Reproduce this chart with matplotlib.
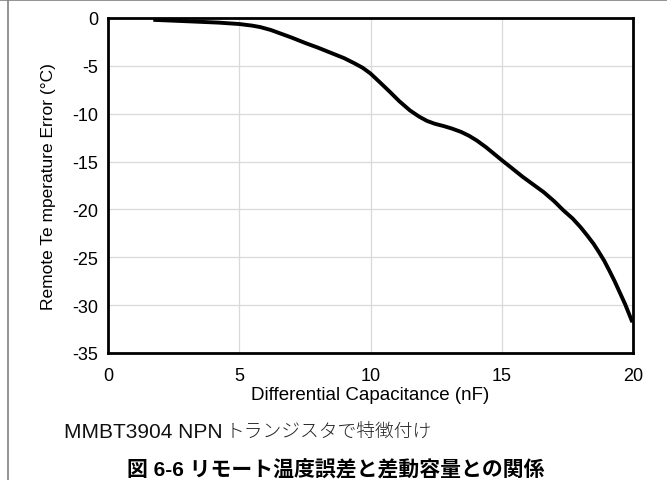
import matplotlib
matplotlib.use("Agg")
import matplotlib.pyplot as plt
from matplotlib.lines import Line2D

plt.rcParams['axes.unicode_minus'] = False
plt.rcParams['font.family'] = ['Liberation Sans', 'Noto Sans CJK JP', 'DejaVu Sans']

# Data
cap_nf = [1.8, 3.1, 4.2, 5.0, 5.5, 5.8, 6.2, 6.55, 7.0, 7.55, 8.0, 8.5, 9.0, 9.4,
          9.7, 10.0, 10.35, 10.75, 11.1, 11.5, 11.85, 12.15, 12.45, 12.8, 13.1,
          13.45, 13.75, 14.05, 14.4, 14.8, 15.0, 15.3, 15.8, 16.2, 16.6, 17.0,
          17.35, 17.7, 18.0, 18.25, 18.5, 18.7, 18.9, 19.1, 19.3, 19.5, 19.7, 19.95]
temp_err = [-0.2, -0.35, -0.48, -0.63, -0.8, -0.95, -1.25, -1.6, -2.05, -2.65,
            -3.1, -3.65, -4.2, -4.75, -5.2, -5.8, -6.7, -7.75, -8.7, -9.65,
            -10.3, -10.75, -11.05, -11.3, -11.55, -11.9, -12.3, -12.8, -13.5,
            -14.4, -14.85, -15.5, -16.6, -17.4, -18.2, -19.15, -20.1, -20.95,
            -21.85, -22.7, -23.6, -24.45, -25.35, -26.4, -27.5, -28.7, -29.9, -31.6]
x_ticks = [0, 5, 10, 15, 20]
y_ticks = [0, -5, -10, -15, -20, -25, -30, -35]
x_label = "Differential Capacitance (nF)"
y_label = "Remote Te mperature Error (°C)"
caption_latin = "MMBT3904 NPN"
caption_jp = "トランジスタで特徴付け"
title = "図 6-6 リモート温度誤差と差動容量との関係"

W, H = 667, 481
fig = plt.figure(figsize=(W / 100, H / 100), dpi=100)
ax = fig.add_axes([108 / W, 1 - 354 / H, (633 - 108) / W, (354 - 19) / H])

ax.plot(cap_nf, temp_err, color='black', lw=2.8, solid_joinstyle='round')
ax.set_xlim(0, 20)
ax.set_ylim(-35, 0)
ax.set_xticks(x_ticks)
ax.set_yticks(y_ticks)
ax.set_xticklabels([str(v) for v in x_ticks])
ax.set_yticklabels([str(v) for v in y_ticks])
ax.tick_params(length=0, labelsize=13)
ax.tick_params(axis='y', pad=7)
ax.tick_params(axis='x', pad=10)
ax.grid(True, color='#d9d9d9', lw=0.9)
ax.set_axisbelow(True)
for s in ax.spines.values():
    s.set_linewidth(2.0)
    s.set_color('black')

ax.set_xlabel(x_label, fontsize=13.5)
ax.set_ylabel(y_label, fontsize=12.5)
ax.xaxis.set_label_coords(0.5, (354 - 387) / (354 - 19), transform=ax.transAxes)
ax.yaxis.set_label_coords((56 - 108) / (633 - 108), 0.5, transform=ax.transAxes)

fig.text(64 / W, 1 - 432 / H, caption_latin, fontsize=15, va='center', ha='left', color='#111111')
fig.text(226 / W, 1 - 432 / H, caption_jp, fontsize=13.5, va='center', ha='left',
         color='#222222', fontweight='light', family=['Noto Sans CJK JP', 'DejaVu Sans'])
fig.text(336 / W, 1 - 470 / H, title, fontsize=15, fontweight='bold', va='center', ha='center')

# page frame lines
fig.add_artist(Line2D([8 / W, 8 / W], [0, 1], transform=fig.transFigure, color='#808080', lw=1.2))
fig.add_artist(Line2D([0, 1], [1 - 0.8 / H, 1 - 0.8 / H], transform=fig.transFigure, color='#808080', lw=1.2))

fig.savefig("out.png", dpi=100)
